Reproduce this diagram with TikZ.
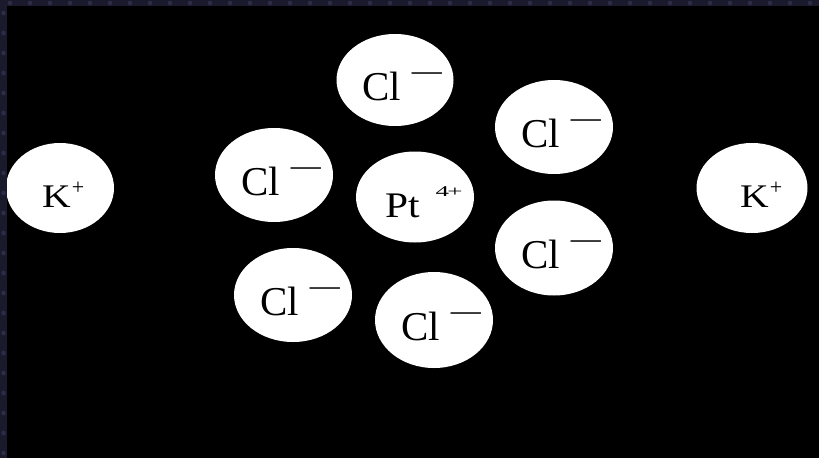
\documentclass[tikz,border=0pt]{standalone}
\usepackage{fontspec}
\setmainfont{Liberation Serif}
\usetikzlibrary{shapes.geometric}
\definecolor{framecol}{RGB}{26,26,44}
\definecolor{dotcol}{RGB}{44,44,72}
\newcommand\clminus{\hspace{11pt}\raisebox{20pt}{\fontsize{30}{30}\selectfont —}}
\newcommand\kplus{\scalebox{1.2}[1]{K}\hspace{1pt}\raisebox{13pt}{\fontsize{22}{22}\selectfont +}}
\newcommand\ptfour{\scalebox{1.15}[1]{Pt}\hspace{16pt}\raisebox{21pt}{\scalebox{1.8}[1]{\fontsize{15}{15}\selectfont 4\kern-1pt+}}}
\begin{document}
\begin{tikzpicture}[x=1pt,y=-1pt,
  ion/.style={ellipse, fill=white, inner sep=0pt, minimum width=118pt, minimum height=94pt},
  sym/.style={anchor=base west, inner sep=0pt, text=black, font=\fontsize{41}{41}\selectfont},
  ksym/.style={anchor=base west, inner sep=0pt, text=black, font=\fontsize{33}{33}\selectfont},
  ptsym/.style={anchor=base west, inner sep=0pt, text=black, font=\fontsize{36}{36}\selectfont}]
\fill[black] (0,0) rectangle (819,458);
\path[use as bounding box] (0,0) rectangle (819,458);
% ions
\node[ion, minimum width=108pt, minimum height=90pt] (k1) at (60,188) {};
\node[ion, minimum width=111pt, minimum height=90pt] (k2) at (752,188) {};
\node[ion, minimum height=91pt] (pt) at (415,197) {};
\node[ion, minimum width=117pt, minimum height=92pt] (c1) at (395,80) {};
\node[ion] (c2) at (554,127) {};
\node[ion] (c3) at (274,175) {};
\node[ion, minimum height=95pt] (c4) at (554,248) {};
\node[ion] (c5) at (293,295) {};
\node[ion, minimum height=96pt] (c6) at (434,320) {};
% labels
\foreach \c in {c1,c2,c3,c4,c5,c6}
  \node[sym] (\c t) at ([shift={(-33,20)}]\c.center) {Cl\clminus};
\node[ksym] (k1t) at ([shift={(-18,19)}]k1.center) {\kplus};
\node[ksym] (k2t) at ([shift={(-12,19)}]k2.center) {\kplus};
\node[ptsym] (ptt) at ([shift={(-30,20)}]pt.center) {\ptfour};
% slide frame
\fill[framecol] (0,0) rectangle (819,6);
\fill[framecol] (0,0) rectangle (7,458);
\foreach \i in {0,...,40} \fill[dotcol] (10+20*\i,3) circle (2.3pt);
\foreach \i in {0,...,22} \fill[dotcol] (3.5,13+20*\i) circle (2.3pt);
\end{tikzpicture}
\end{document}
